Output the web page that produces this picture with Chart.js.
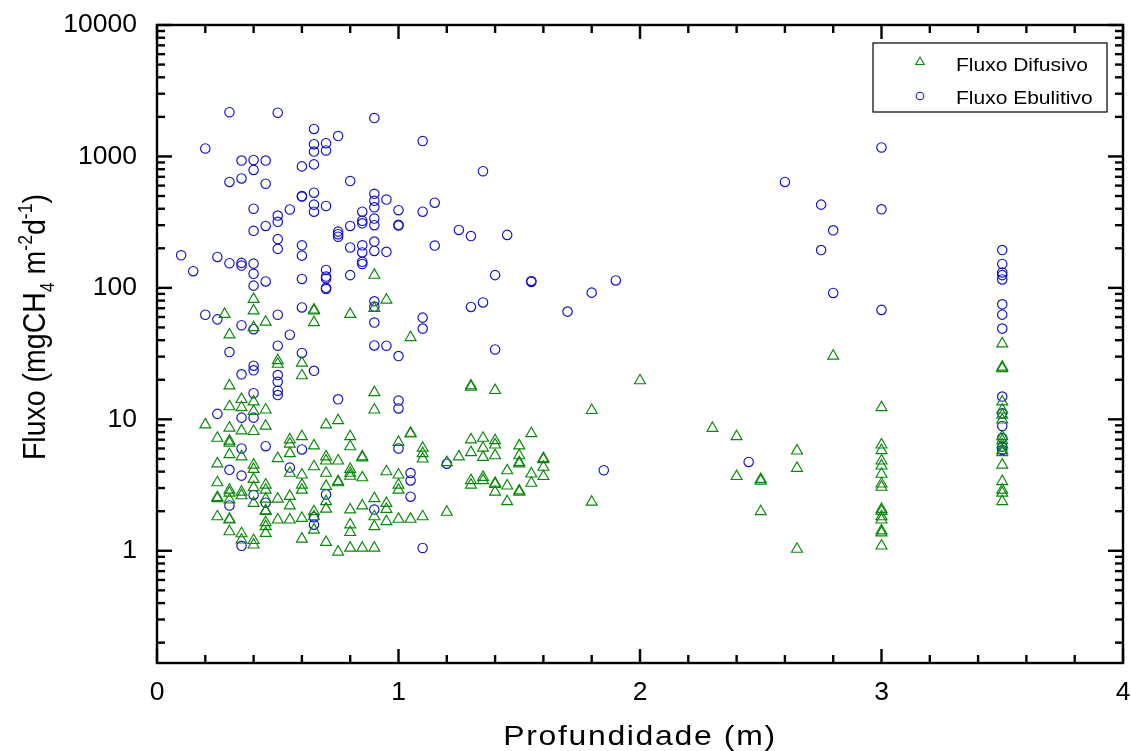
<!DOCTYPE html>
<html><head><meta charset="utf-8">
<script src="https://cdn.jsdelivr.net/npm/chart.js@4.4.1/dist/chart.umd.min.js"></script>
<style>html,body{margin:0;padding:0;background:#fff;}canvas{display:block;}</style>
</head><body>
<canvas id="c" width="1131" height="751"></canvas>
<script>
// ---- data (depth in m, flux in mgCH4 m-2 d-1) ----
const seriesNames = ['Fluxo Difusivo', 'Fluxo Ebulitivo'];
const xTitle = 'Profundidade (m)';
const xTickValues = [0, 1, 2, 3, 4];
const yTickValues = [1, 10, 100, 1000, 10000];

const difusivo = [
  [0.2, [9.1]],
  [0.25, [7.2, 4.6, 3.3, 2.55, 2.5, 1.82]],
  [0.28, [63]],
  [0.3, [44, 18, 12.5, 8.6, 6.85, 6.6, 5.4, 2.9, 2.75, 2.44, 1.74, 1.72, 1.4]],
  [0.35, [14.2, 12.3, 8.2, 5.2, 2.8, 2.63, 1.35, 1.21]],
  [0.4, [82, 67, 50, 13.6, 11.5, 8.1, 4.5, 4.17, 3.5, 3.03, 2.3, 1.2, 1.11]],
  [0.45, [55, 11.8, 8.9, 3.17, 2.9, 2.48, 2.02, 2.0, 1.64, 1.53, 1.36]],
  [0.5, [28, 26.3, 5.04, 2.48, 1.72]],
  [0.55, [7.0, 6.5, 5.5, 3.9, 2.6, 2.2, 1.72]],
  [0.6, [26.8, 21.5, 7.4, 3.78, 3.17, 2.9, 1.77, 1.23]],
  [0.65, [68, 67, 54.5, 6.3, 4.37, 1.99, 1.82, 1.44]],
  [0.7, [9.1, 5.2, 4.83, 3.9, 3.1, 2.37, 2.08, 1.16]],
  [0.75, [9.8, 4.83, 3.37, 3.3, 0.98]],
  [0.8, [63, 7.4, 6.2, 4.17, 3.9, 3.7, 2.05, 1.58, 1.38, 1.05]],
  [0.85, [5.2, 5.1, 3.6, 2.2, 1.05]],
  [0.9, [125, 70, 16, 11.8, 2.5, 1.82, 1.53, 1.05]],
  [0.95, [81, 4.0, 2.3, 2.07, 1.67]],
  [1.0, [6.7, 3.78, 3.17, 2.9, 1.74]],
  [1.05, [42, 7.85, 7.75, 1.74]],
  [1.1, [6.05, 5.5, 5.0, 1.82]],
  [1.2, [4.7, 1.97]],
  [1.25, [5.2]],
  [1.3, [18, 17.6, 7.0, 5.6, 3.43, 3.17]],
  [1.35, [7.2, 6.05, 5.15, 3.63, 3.43]],
  [1.4, [16.6, 6.9, 6.4, 5.3, 3.27, 3.2, 2.8]],
  [1.45, [4.07, 3.12, 2.37]],
  [1.5, [6.3, 5.3, 4.7, 4.6, 2.86, 2.8]],
  [1.55, [7.8, 3.85, 3.27]],
  [1.6, [5.04, 4.95, 4.33, 3.68]],
  [1.8, [11.7, 2.35]],
  [2.0, [19.7]],
  [2.3, [8.55]],
  [2.4, [7.4, 3.68]],
  [2.5, [3.5, 3.4, 1.99]],
  [2.65, [5.76, 4.25, 1.03]],
  [2.8, [30.3]],
  [3.0, [12.3, 6.4, 5.8, 4.83, 4.43, 3.83, 3.23, 3.05, 2.07, 2.0, 1.82, 1.72, 1.42, 1.37, 1.09]],
  [3.5, [37.6, 25, 24.4, 13.6, 11.8, 10.8, 9.9, 7.4, 6.9, 6.4, 5.8, 5.6, 4.5, 3.37, 2.9, 2.75, 2.37]]
];

const ebulitivo = [
  [0.1, [177]],
  [0.15, [134]],
  [0.2, [1150, 62.5]],
  [0.25, [172, 57.6, 11.0]],
  [0.3, [2170, 640, 154, 32.5, 4.13, 2.21]],
  [0.35, [930, 680, 155, 148, 52, 22, 10.3, 6.0, 3.73, 1.09]],
  [0.4, [940, 790, 400, 272, 153, 128, 104, 48.5, 25.6, 23.6, 15.8, 10.3, 2.66]],
  [0.45, [930, 620, 296, 112, 6.25, 2.32]],
  [0.5, [2150, 355, 318, 235, 198, 62.5, 36.3, 21.7, 19.3, 16.5, 15.3]],
  [0.55, [395, 44, 4.3]],
  [0.6, [840, 500, 495, 211, 176, 117, 71, 32, 5.9]],
  [0.65, [1620, 1240, 1090, 870, 530, 430, 380, 23.4, 1.8, 1.58]],
  [0.7, [1260, 1110, 420, 137, 122, 118, 100, 98, 2.68]],
  [0.75, [1430, 268, 256, 245, 14.2]],
  [0.8, [650, 296, 203, 125]],
  [0.85, [380, 324, 310, 211, 186, 158, 152]],
  [0.9, [1960, 520, 460, 410, 337, 300, 225, 191, 79, 72, 54.5, 36.5, 2.06]],
  [0.95, [470, 188, 36.3]],
  [1.0, [390, 302, 298, 30.3, 13.9, 12.1, 6.0]],
  [1.05, [3.9, 3.43, 2.58]],
  [1.1, [1310, 380, 59.4, 49, 1.05]],
  [1.15, [445, 210]],
  [1.2, [4.6]],
  [1.25, [276]],
  [1.3, [248, 71.6]],
  [1.35, [772, 77.5]],
  [1.4, [125, 34]],
  [1.45, [253]],
  [1.55, [113, 111]],
  [1.7, [66]],
  [1.8, [92]],
  [1.85, [4.1]],
  [1.9, [114]],
  [2.45, [4.74]],
  [2.6, [640]],
  [2.75, [430, 194]],
  [2.8, [274, 91.5]],
  [3.0, [1170, 396, 68]],
  [3.5, [194, 152, 131, 125, 116, 75, 62.6, 49, 14.9, 11.1, 8.9, 7.2, 6.2, 5.85]]
];

// ---- rendering ----
const FONT = "'Liberation Sans', Arial, Helvetica, sans-serif";
const GREEN = '#088808';
const BLUE = '#1212c4';
const toPoints = groups => groups.flatMap(([x, ys]) => ys.map(y => ({ x, y })));

function drawTriangle(ctx, cx, cy, r) {
  let rad = 0;
  ctx.beginPath();
  for (let i = 0; i < 3; i++) {
    const px = cx + Math.sin(rad) * r, py = cy - Math.cos(rad) * r;
    if (i === 0) ctx.moveTo(px, py); else ctx.lineTo(px, py);
    rad += 2 * Math.PI / 3;
  }
  ctx.closePath();
  ctx.stroke();
}

const framePlugin = {
  id: 'frame',
  afterDraw(chart) {
    const { ctx, chartArea: a, scales: { x, y } } = chart;
    ctx.save();
    ctx.strokeStyle = '#000';
    ctx.lineWidth = 2.4;
    ctx.lineCap = 'butt';
    const seg = (x1, y1, x2, y2) => { ctx.beginPath(); ctx.moveTo(x1, y1); ctx.lineTo(x2, y2); ctx.stroke(); };
    for (let i = 0; i <= 20; i++) {
      const px = x.getPixelForValue(i * 0.2);
      const L = (i % 5 === 0) ? 14 : 8;
      seg(px, a.bottom, px, a.bottom - L);
      seg(px, a.top, px, a.top + L);
    }
    for (let d = -1; d <= 4; d++) {
      for (let m = 1; m <= 9; m++) {
        const v = m * Math.pow(10, d);
        if (v < y.min - 1e-9 || v > y.max + 1e-9) continue;
        const py = y.getPixelForValue(v);
        const L = (m === 1) ? 15 : 8;
        seg(a.left, py, a.left + L, py);
        seg(a.right, py, a.right - L, py);
      }
    }
    ctx.strokeRect(a.left, a.top, a.right - a.left, a.bottom - a.top);

    // legend
    const bx = a.right - 250, by = a.top + 18, bw = 234, bh = 69;
    ctx.lineWidth = 1.2;
    ctx.strokeRect(bx, by, bw, bh);
    ctx.lineWidth = 1.1;
    ctx.strokeStyle = GREEN;
    drawTriangle(ctx, bx + 47, by + 19, 5);
    ctx.strokeStyle = BLUE;
    ctx.beginPath(); ctx.arc(bx + 47, by + 53, 3.8, 0, Math.PI * 2); ctx.stroke();
    ctx.fillStyle = '#000';
    ctx.font = `17.5px ${FONT}`;
    ctx.textBaseline = 'alphabetic';
    ctx.textAlign = 'left';
    [[seriesNames[0], by + 28], [seriesNames[1], by + 60.5]].forEach(([t, ty]) => {
      ctx.save(); ctx.translate(bx + 83, ty); ctx.scale(1.2, 1); ctx.fillText(t, 0, 0); ctx.restore();
    });

    // x axis title
    ctx.font = `28.5px ${FONT}`;
    ctx.save();
    if ('letterSpacing' in ctx) ctx.letterSpacing = '1.5px';
    ctx.translate((a.left + a.right) / 2, 745);
    ctx.scale(1.12, 1);
    ctx.textAlign = 'center';
    ctx.fillText(xTitle, 0, 0);
    ctx.restore();

    // y axis title with sub/superscripts
    const F = 28.5, S = 0.62;
    const parts = [
      { t: 'Fluxo (mgCH', s: 1, dy: 0 },
      { t: '4', s: S, dy: 0.28 },
      { t: ' m', s: 1, dy: 0 },
      { t: '-2', s: S, dy: -0.42 },
      { t: 'd', s: 1, dy: 0 },
      { t: '-1', s: S, dy: -0.42 },
      { t: ')', s: 1, dy: 0 }
    ];
    let total = 0;
    parts.forEach(p => { ctx.font = `${F * p.s}px ${FONT}`; p.w = ctx.measureText(p.t).width; total += p.w; });
    ctx.save();
    ctx.translate(45, 327);
    ctx.rotate(-Math.PI / 2);
    ctx.scale(1, 1.1);
    ctx.textAlign = 'left';
    let cx = -total / 2;
    parts.forEach(p => {
      ctx.font = `${F * p.s}px ${FONT}`;
      ctx.fillText(p.t, cx, p.dy * F);
      cx += p.w;
    });
    ctx.restore();
    ctx.restore();
  }
};

new Chart(document.getElementById('c').getContext('2d'), {
  type: 'scatter',
  data: {
    datasets: [
      { label: seriesNames[0], data: toPoints(difusivo), pointStyle: 'triangle', pointRadius: 6.3, pointHoverRadius: 6.3,
        borderColor: GREEN, backgroundColor: 'rgba(0,0,0,0)', borderWidth: 1.15 },
      { label: seriesNames[1], data: toPoints(ebulitivo), pointStyle: 'circle', pointRadius: 4.7, pointHoverRadius: 4.7,
        borderColor: BLUE, backgroundColor: 'rgba(0,0,0,0)', borderWidth: 1.15 }
    ]
  },
  options: {
    responsive: false,
    animation: false,
    devicePixelRatio: 1,
    layout: { padding: { top: 25, right: 8, left: 0, bottom: 0 } },
    plugins: { legend: { display: false }, tooltip: { enabled: false } },
    scales: {
      x: {
        type: 'linear', min: 0, max: 4,
        grid: { display: false, drawTicks: true, tickLength: 14 },
        border: { display: false },
        afterBuildTicks: s => { s.ticks = xTickValues.map(v => ({ value: v })); },
        afterFit: s => { s.height = 88; },
        ticks: { color: '#000', font: { family: FONT, size: 26.5 }, padding: 0, maxRotation: 0, autoSkip: false,
                 callback: v => String(v) }
      },
      y: {
        type: 'logarithmic', min: 0.14, max: 10000,
        grid: { display: false, drawTicks: true, tickLength: 20 },
        border: { display: false },
        afterBuildTicks: s => { s.ticks = yTickValues.map(v => ({ value: v })); },
        afterFit: s => { s.width = 157; },
        ticks: { color: '#000', font: { family: FONT, size: 26.5 }, padding: 0, autoSkip: false,
                 callback: v => String(v) }
      }
    }
  },
  plugins: [framePlugin]
});
</script>
</body></html>
